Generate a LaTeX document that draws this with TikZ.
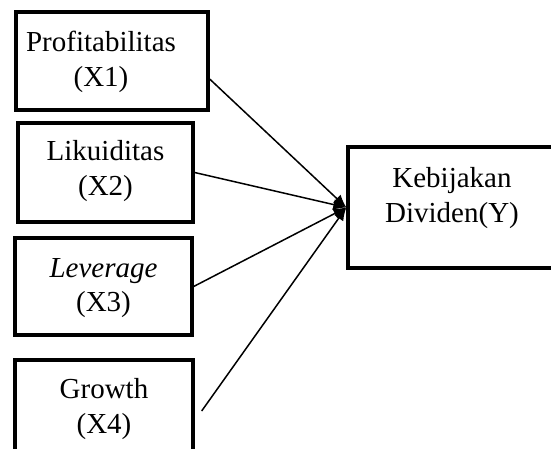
\documentclass[tikz,border=0pt]{standalone}
\usepackage{fontspec}
\setmainfont{Liberation Serif}
\usetikzlibrary{arrows.meta,calc}

\tikzset{
    varbox/.style={rectangle,draw,line width=3.3pt,inner sep=0pt},
    vartext/.style={align=center,font=\fontsize{29}{34.5}\selectfont},
    effect/.style={line width=1.5pt,-{Latex[length=13pt,width=11pt]}}
}

\begin{document}
\begin{tikzpicture}[x=1pt,y=-1pt]
            \useasboundingbox (0,0) rectangle (551,448);

            \node[varbox,minimum width=192pt,minimum height=98pt] (x1) at (112,61) {};
            \node[varbox,minimum width=175pt,minimum height=99pt] (x2) at (105.5,172.5) {};
            \node[varbox,minimum width=177pt,minimum height=97pt] (x3) at (103.5,286.5) {};
            \node[varbox,minimum width=178pt,minimum height=98pt] (x4) at (104,409) {};
            \node[varbox,minimum width=208pt,minimum height=121pt] (y) at (452,207.5) {};

            \node[vartext] (t1) at (101,62) {Profitabilitas\\(X1)};
            \node[vartext] (t2) at (105.5,171) {Likuiditas\\(X2)};
            \node[vartext] (t3) at (103.5,288) {\textit{Leverage}\\(X3)};
            \node[vartext] (t4) at (104,409) {Growth\\(X4)};
            \node[vartext] (ty) at (452,198) {Kebijakan\\Dividen(Y)};

            \draw[effect] ($(x1.east)+(0,18)$) -- (y.west);
            \draw[effect] (x2.east) -- (y.west);
            \draw[effect] (x3.east) -- (y.west);
            \draw[effect] ($(x4.east)+(7,2)$) -- (y.west);
        \end{tikzpicture}
\end{document}
